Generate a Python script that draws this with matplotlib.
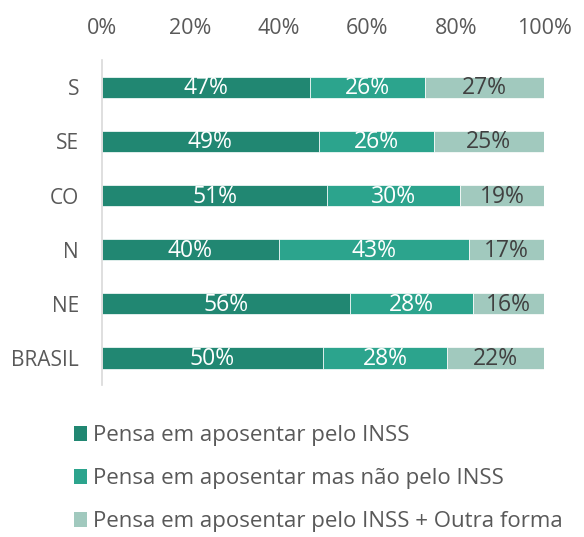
import numpy as np
import matplotlib.pyplot as plt
from matplotlib.patches import Patch

plt.rcParams['font.family'] = ['Open Sans', 'DejaVu Sans']

regioes = ['S', 'SE', 'CO', 'N', 'NE', 'BRASIL']
inss = [47, 49, 51, 40, 56, 50]
nao_inss = [26, 26, 30, 43, 28, 28]
outra = [27, 25, 19, 17, 16, 22]
series = ['Pensa em aposentar pelo INSS',
          'Pensa em aposentar mas não pelo INSS',
          'Pensa em aposentar pelo INSS + Outra forma']

cores = ['#218772', '#2ca48d', '#a1c9be']
cor_txt = ['white', 'white', '#404040']

fig = plt.figure(figsize=(5.84, 5.37), dpi=100)
ax = fig.add_axes([0.1747, 0.283, 0.757, 0.605])

y = np.arange(len(regioes))
esq = np.zeros(len(regioes))
for vals, cor, ct in zip([inss, nao_inss, outra], cores, cor_txt):
    vals = np.array(vals)
    ax.barh(y, vals, left=esq, height=0.39, color=cor, edgecolor='white', linewidth=0.5)
    for yi, l, v in zip(y, esq, vals):
        ax.text(l + v / 2, yi + 0.02, '%d%%' % v, ha='center', va='center', color=ct, fontsize=16.5)
    esq = esq + vals

ax.set_ylim(len(regioes) - 0.5, -0.5)
ax.set_xlim(0, 100)
ax.set_yticks(y)
ax.set_yticklabels(regioes)
ax.set_xticks(range(0, 101, 20))
ax.set_xticklabels(['%d%%' % v for v in range(0, 101, 20)])
ax.xaxis.tick_top()
ax.tick_params(axis='x', length=0, pad=15, labelsize=15.5, colors='#595959')
ax.tick_params(axis='y', length=0, pad=16.5, labelsize=15, colors='#595959')
for s in ['top', 'right', 'bottom']:
    ax.spines[s].set_visible(False)
ax.spines['left'].set_color('#d9d9d9')
ax.spines['left'].set_linewidth(1.2)

handles = [Patch(facecolor=c) for c in cores]
leg = fig.legend(handles, series, loc='upper left', bbox_to_anchor=(0.111, 0.2245),
                 frameon=False, fontsize=16, handlelength=0.62, handleheight=0.62,
                 handletextpad=0.27, labelspacing=0.99, borderaxespad=0)
for t in leg.get_texts():
    t.set_color('#595959')

fig.savefig('out.png', dpi=100)
